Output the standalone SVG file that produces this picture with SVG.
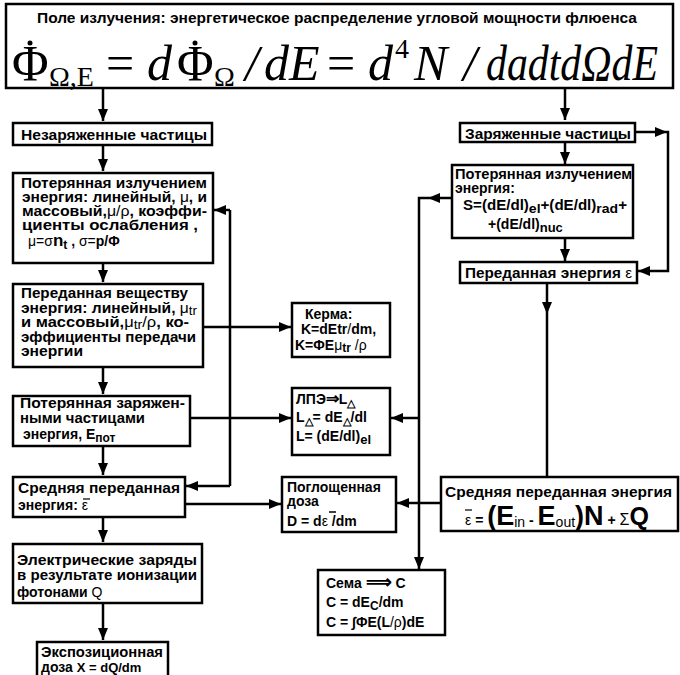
<svg xmlns="http://www.w3.org/2000/svg" width="680" height="675" viewBox="0 0 680 675">
<defs>
<marker id="ah" viewBox="0 0 12 10" refX="12" refY="5" markerWidth="12" markerHeight="10" markerUnits="userSpaceOnUse" orient="auto"><path d="M0,0 L12,5 L0,10 z" fill="#000"/></marker>
<style>
.box{fill:#fff;stroke:#000;stroke-width:2.5}
.c{fill:none;stroke:#000;stroke-width:2.5}
.t{font-family:"Liberation Sans",Arial,sans-serif;font-weight:bold;font-size:14px;fill:#000}
.n{font-weight:normal}
.f{font-family:"Liberation Serif","Times New Roman",serif;fill:#000}
.i{font-style:italic}
</style>
</defs>
<rect width="680" height="675" fill="#fff"/>

<g id="header">
<rect class="box" x="6" y="4" width="667" height="84"/>
<text class="t" x="37" y="23" font-size="16" textLength="600" lengthAdjust="spacingAndGlyphs">Поле излучения: энергетическое распределение угловой мощности флюенса</text>
<text class="f" x="12" y="80" font-size="50">Φ</text>
<circle cx="30" cy="43" r="2.5"/>
<text class="f" x="49" y="86" font-size="28">Ω,E</text>
<text class="f" x="106" y="80" font-size="50">=</text>
<text class="f i" x="147" y="80" font-size="50">d</text>
<text class="f" x="177" y="80" font-size="50">Φ</text>
<circle cx="195" cy="43" r="2.5"/>
<text class="f" x="214" y="86" font-size="28">Ω</text>
<text class="f i" x="245" y="80" font-size="50">/</text>
<text class="f i" x="264" y="80" font-size="50">dE</text>
<text class="f" x="327" y="80" font-size="50">=</text>
<text class="f i" x="368" y="80" font-size="50">d</text>
<text class="f" x="395" y="58" font-size="28">4</text>
<text class="f i" x="414" y="80" font-size="50">N</text>
<text class="f i" x="463" y="80" font-size="50">/</text>
<text class="f i" x="486" y="80" font-size="50" textLength="172" lengthAdjust="spacingAndGlyphs">dadtdΩdE</text>
</g>

<g id="connectors">
<path class="c" d="M103,88 V121" marker-end="url(#ah)"/>
<path class="c" d="M565,88 V120" marker-end="url(#ah)"/>
<path class="c" d="M103,145 V171" marker-end="url(#ah)"/>
<path class="c" d="M103,263 V282" marker-end="url(#ah)"/>
<path class="c" d="M103,367 V394" marker-end="url(#ah)"/>
<path class="c" d="M103,446 V475" marker-end="url(#ah)"/>
<path class="c" d="M103,517 V542" marker-end="url(#ah)"/>
<path class="c" d="M103,603 V640" marker-end="url(#ah)"/>
<path class="c" d="M230,210 V486"/>
<path class="c" d="M230,210 H214" marker-end="url(#ah)"/>
<path class="c" d="M230,486 H186" marker-end="url(#ah)"/>
<path class="c" d="M203,327 H291" marker-end="url(#ah)"/>
<path class="c" d="M190,418 H291" marker-end="url(#ah)"/>
<path class="c" d="M185,504 H281" marker-end="url(#ah)"/>
<path class="c" d="M452,198 H419 V569" marker-end="url(#ah)"/>
<polygon points="428,198 440,193 440,203"/>
<path class="c" d="M419,418 H391" marker-end="url(#ah)"/>
<path class="c" d="M441,503 H397" marker-end="url(#ah)"/>
<path class="c" d="M547,283 V477"/>
<polygon points="547,314 542,302 552,302"/>
<path class="c" d="M635,132 H668 V271 H638" marker-end="url(#ah)"/>
<polygon points="667,132 655,127 655,137"/>
<path class="c" d="M565,142 V164" marker-end="url(#ah)"/>
<path class="c" d="M565,238 V261" marker-end="url(#ah)"/>
</g>

<g id="n-uncharged">
<rect class="box" x="13" y="123" width="199" height="22"/>
<text class="t" x="21" y="140" font-size="16" textLength="186" lengthAdjust="spacingAndGlyphs">Незаряженные частицы</text>
</g>

<g id="n-lost-rad">
<rect class="box" x="13" y="173" width="200" height="90"/>
<text class="t" x="21" y="188" textLength="186" lengthAdjust="spacingAndGlyphs">Потерянная излучением</text>
<text class="t" x="22" y="202" textLength="185" lengthAdjust="spacingAndGlyphs">энергия: линейный, <tspan class="n">μ</tspan>, и</text>
<text class="t" x="22" y="216" textLength="185" lengthAdjust="spacingAndGlyphs">массовый,<tspan class="n">μ/ρ</tspan>, коэффи-</text>
<text class="t" x="22" y="230" textLength="176" lengthAdjust="spacingAndGlyphs">циенты ослабления ,</text>
<text class="t" x="28" y="246"><tspan class="n">μ=σ</tspan><tspan font-size="17">n</tspan><tspan font-size="12" dy="3">t</tspan><tspan dy="-3"> ,  </tspan><tspan class="n">σ=</tspan>p/Φ</text>
</g>

<g id="n-transfer">
<rect class="box" x="13" y="284" width="190" height="83"/>
<text class="t" x="21" y="298" textLength="167" lengthAdjust="spacingAndGlyphs">Переданная веществу</text>
<text class="t" x="21" y="313" textLength="176" lengthAdjust="spacingAndGlyphs">энергия: линейный, <tspan class="n">μ</tspan><tspan class="n" font-size="12" dy="2">tr</tspan></text>
<text class="t" x="21" y="327" textLength="168" lengthAdjust="spacingAndGlyphs">и массовый,<tspan class="n">μ</tspan><tspan class="n" font-size="12" dy="2">tr</tspan><tspan class="n" dy="-2">/ρ</tspan>, ко-</text>
<text class="t" x="21" y="342" textLength="175" lengthAdjust="spacingAndGlyphs">эффициенты передачи</text>
<text class="t" x="21" y="356" textLength="62" lengthAdjust="spacingAndGlyphs">энергии</text>
</g>

<g id="n-lost-charged">
<rect class="box" x="13" y="396" width="177" height="50"/>
<text class="t" x="20" y="408" textLength="165" lengthAdjust="spacingAndGlyphs">Потерянная заряжен-</text>
<text class="t" x="20" y="423" textLength="125" lengthAdjust="spacingAndGlyphs">ными частицами</text>
<text class="t" x="23" y="439">энергия, Е<tspan font-size="12" dy="3">пот</tspan></text>
</g>

<g id="n-mean-left">
<rect class="box" x="13" y="477" width="172" height="40"/>
<text class="t" x="18" y="493" textLength="162" lengthAdjust="spacingAndGlyphs">Средняя переданная</text>
<text class="t" x="18" y="510">энергия: <tspan class="n">ε</tspan></text>
<path d="M83,499 H90" stroke="#000" stroke-width="1.2"/>
</g>

<g id="n-charges">
<rect class="box" x="13" y="544" width="189" height="59"/>
<text class="t" x="17" y="565" textLength="180" lengthAdjust="spacingAndGlyphs">Электрические заряды</text>
<text class="t" x="17" y="580" textLength="180" lengthAdjust="spacingAndGlyphs">в результате ионизации</text>
<text class="t" x="17" y="597">фотонами <tspan class="n">Q</tspan></text>
</g>

<g id="n-exposure">
<rect class="box" x="37" y="642" width="131" height="40"/>
<text class="t" x="41" y="657" textLength="122" lengthAdjust="spacingAndGlyphs">Экспозиционная</text>
<text class="t" x="41" y="672">доза <tspan font-size="13"> X = dQ/dm</tspan></text>
</g>

<g id="n-kerma">
<rect class="box" x="292" y="303" width="98" height="54"/>
<text class="t" x="305" y="319">Керма:</text>
<text class="t" x="301" y="334">K=dEtr<tspan class="n">/</tspan>dm,</text>
<text class="t" x="295" y="350">K=ΦE<tspan class="n">μ</tspan><tspan font-size="12" dy="2">tr</tspan><tspan class="n" dy="-2"> /ρ</tspan></text>
</g>

<g id="n-let">
<rect class="box" x="292" y="388" width="98" height="67"/>
<text class="t" x="296" y="404">ЛПЭ<tspan font-size="16">⇒</tspan>L<tspan font-size="11" dy="3">△</tspan></text>
<text class="t" x="296" y="422">L<tspan font-size="11" dy="3">△</tspan><tspan dy="-3">= dE</tspan><tspan font-size="11" dy="3">△</tspan><tspan dy="-3">/dl</tspan></text>
<text class="t" x="296" y="441">L= (dE/dl)<tspan font-size="13" dy="3">el</tspan></text>
</g>

<g id="n-absorbed">
<rect class="box" x="282" y="477" width="114" height="55"/>
<text class="t" x="287" y="492">Поглощенная</text>
<text class="t" x="287" y="506">доза</text>
<text class="t" x="287" y="526">D = d<tspan class="n">ε</tspan> /dm</text>
<path d="M329,512 H336" stroke="#000" stroke-width="1.5"/>
</g>

<g id="n-cema">
<rect class="box" x="318" y="570" width="127" height="65"/>
<text class="t" x="326" y="588" font-size="15">Сема <tspan font-size="18">⟹</tspan> C</text>
<text class="t" x="326" y="607" font-size="15">C = dE<tspan font-size="12" dy="3">C</tspan><tspan dy="-3">/dm</tspan></text>
<text class="t" x="326" y="627" font-size="15">C = ∫ΦE(L<tspan class="n">/ρ</tspan>)dE</text>
</g>

<g id="n-charged">
<rect class="box" x="460" y="123" width="175" height="19"/>
<text class="t" x="465" y="139" font-size="16" textLength="166" lengthAdjust="spacingAndGlyphs">Заряженные частицы</text>
</g>

<g id="n-lost-rad-r">
<rect class="box" x="452" y="165" width="181" height="73"/>
<text class="t" x="455" y="179" textLength="177" lengthAdjust="spacingAndGlyphs">Потерянная излучением</text>
<text class="t" x="455" y="193">энергия:</text>
<text class="t" x="463" y="210" textLength="164" lengthAdjust="spacingAndGlyphs">S=(dE/dl)<tspan font-size="13" dy="3">el</tspan><tspan dy="-3">+(dE/dl)</tspan><tspan font-size="13" dy="3">rad</tspan><tspan dy="-3">+</tspan></text>
<text class="t" x="488" y="229">+(dE/dl)<tspan font-size="13" dy="3">nuc</tspan></text>
</g>

<g id="n-transferred">
<rect class="box" x="460" y="262" width="177" height="21"/>
<text class="t" x="465" y="278" font-size="16" textLength="167" lengthAdjust="spacingAndGlyphs">Переданная энергия <tspan class="n">ε</tspan></text>
</g>

<g id="n-mean-right">
<rect class="box" x="441" y="477" width="237" height="54"/>
<text class="t" x="445" y="497" font-size="15" textLength="227" lengthAdjust="spacingAndGlyphs">Средняя переданная энергия</text>
<text class="t" x="465" y="525"><tspan class="n">ε</tspan> = <tspan font-size="27">(E</tspan><tspan class="n" font-size="14" dy="2">in</tspan><tspan dy="-2"> - </tspan><tspan font-size="27">E</tspan><tspan class="n" font-size="14" dy="2">out</tspan><tspan font-size="27" dy="-2">)N</tspan> + <tspan class="n" font-size="16">Σ</tspan><tspan font-size="25">Q</tspan></text>
<path d="M465,510 H472" stroke="#000" stroke-width="1.2"/>
</g>
</svg>
